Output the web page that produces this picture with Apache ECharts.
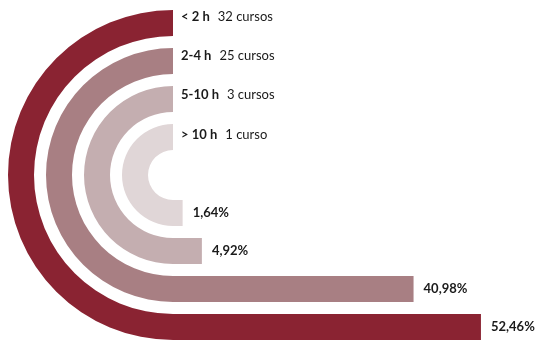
<!DOCTYPE html>
<html>
<head>
<meta charset="utf-8">
<script src="https://cdn.jsdelivr.net/npm/echarts@6/dist/echarts.min.js"></script>
<style>html,body{margin:0;padding:0;background:#fff;}#c{width:543px;height:340px;}</style>
</head>
<body>
<div id="c"></div>
<script>
// Data (outer ring first)
var categories = ['< 2 h', '2-4 h', '5-10 h', '> 10 h'];
var courseLabels = ['32 cursos', '25 cursos', '3 cursos', '1 curso'];
var percents = [52.46, 40.98, 4.92, 1.64];
var percentLabels = ['52,46%', '40,98%', '4,92%', '1,64%'];
var colors = ['#8a2332', '#a87f83', '#c4aeb0', '#e0d6d7'];

var cx = 173, cy = 175;
var band = 38, ringW = 26, innerR = 19;
var nR = categories.length;
var pxPerUnit = 5.87;
var xMax = 60;

var chart = echarts.init(document.getElementById('c'));

// polar: radius categories inner -> outer
var polarCats = categories.slice().reverse();
var polarData = polarCats.map(function (c, i) {
  return { value: 180, itemStyle: { color: colors[nR - 1 - i] } };
});

// cartesian: y categories bottom -> top = outer -> inner
var barData = percents.map(function (v, i) {
  return { value: v, itemStyle: { color: colors[i] }, label: { formatter: percentLabels[i] } };
});

var headerGraphics = categories.map(function (c, i) {
  return {
    type: 'text',
    x: cx + 8,
    y: 16.5 + i * 39.3,
    style: {
      text: '{b|' + c + '}{n|' + courseLabels[i] + '}',
      verticalAlign: 'middle',
      rich: {
        b: { fontFamily: 'Lato', fontWeight: 'bold', fontSize: 13, fill: '#1a1a1a', lineHeight: 16 },
        n: { fontFamily: 'Lato', fontSize: 13, fill: '#1a1a1a', padding: [0, 0, 0, 8], lineHeight: 16 }
      }
    }
  };
});

chart.setOption({
  animation: false,
  backgroundColor: '#fff',
  polar: { center: [cx, cy], radius: [innerR, innerR + band * nR] },
  angleAxis: {
    type: 'value', min: 0, max: 360, startAngle: 90, clockwise: false,
    show: false
  },
  radiusAxis: {
    type: 'category', data: polarCats, show: false
  },
  grid: {
    left: cx, top: cy + innerR, width: xMax * pxPerUnit, height: band * nR,
    outerBoundsMode: 'none', containLabel: false
  },
  xAxis: { type: 'value', min: 0, max: xMax, show: false },
  yAxis: { type: 'category', data: categories, show: false },
  series: [
    {
      type: 'bar', coordinateSystem: 'polar', data: polarData,
      barWidth: ringW, silent: true
    },
    {
      type: 'bar', data: barData, barWidth: ringW, silent: true,
      label: {
        show: true, position: 'right', distance: 10,
        fontFamily: 'Lato', fontWeight: 'bold', fontSize: 13, color: '#1a1a1a'
      }
    }
  ],
  graphic: headerGraphics
});
</script>
</body>
</html>
